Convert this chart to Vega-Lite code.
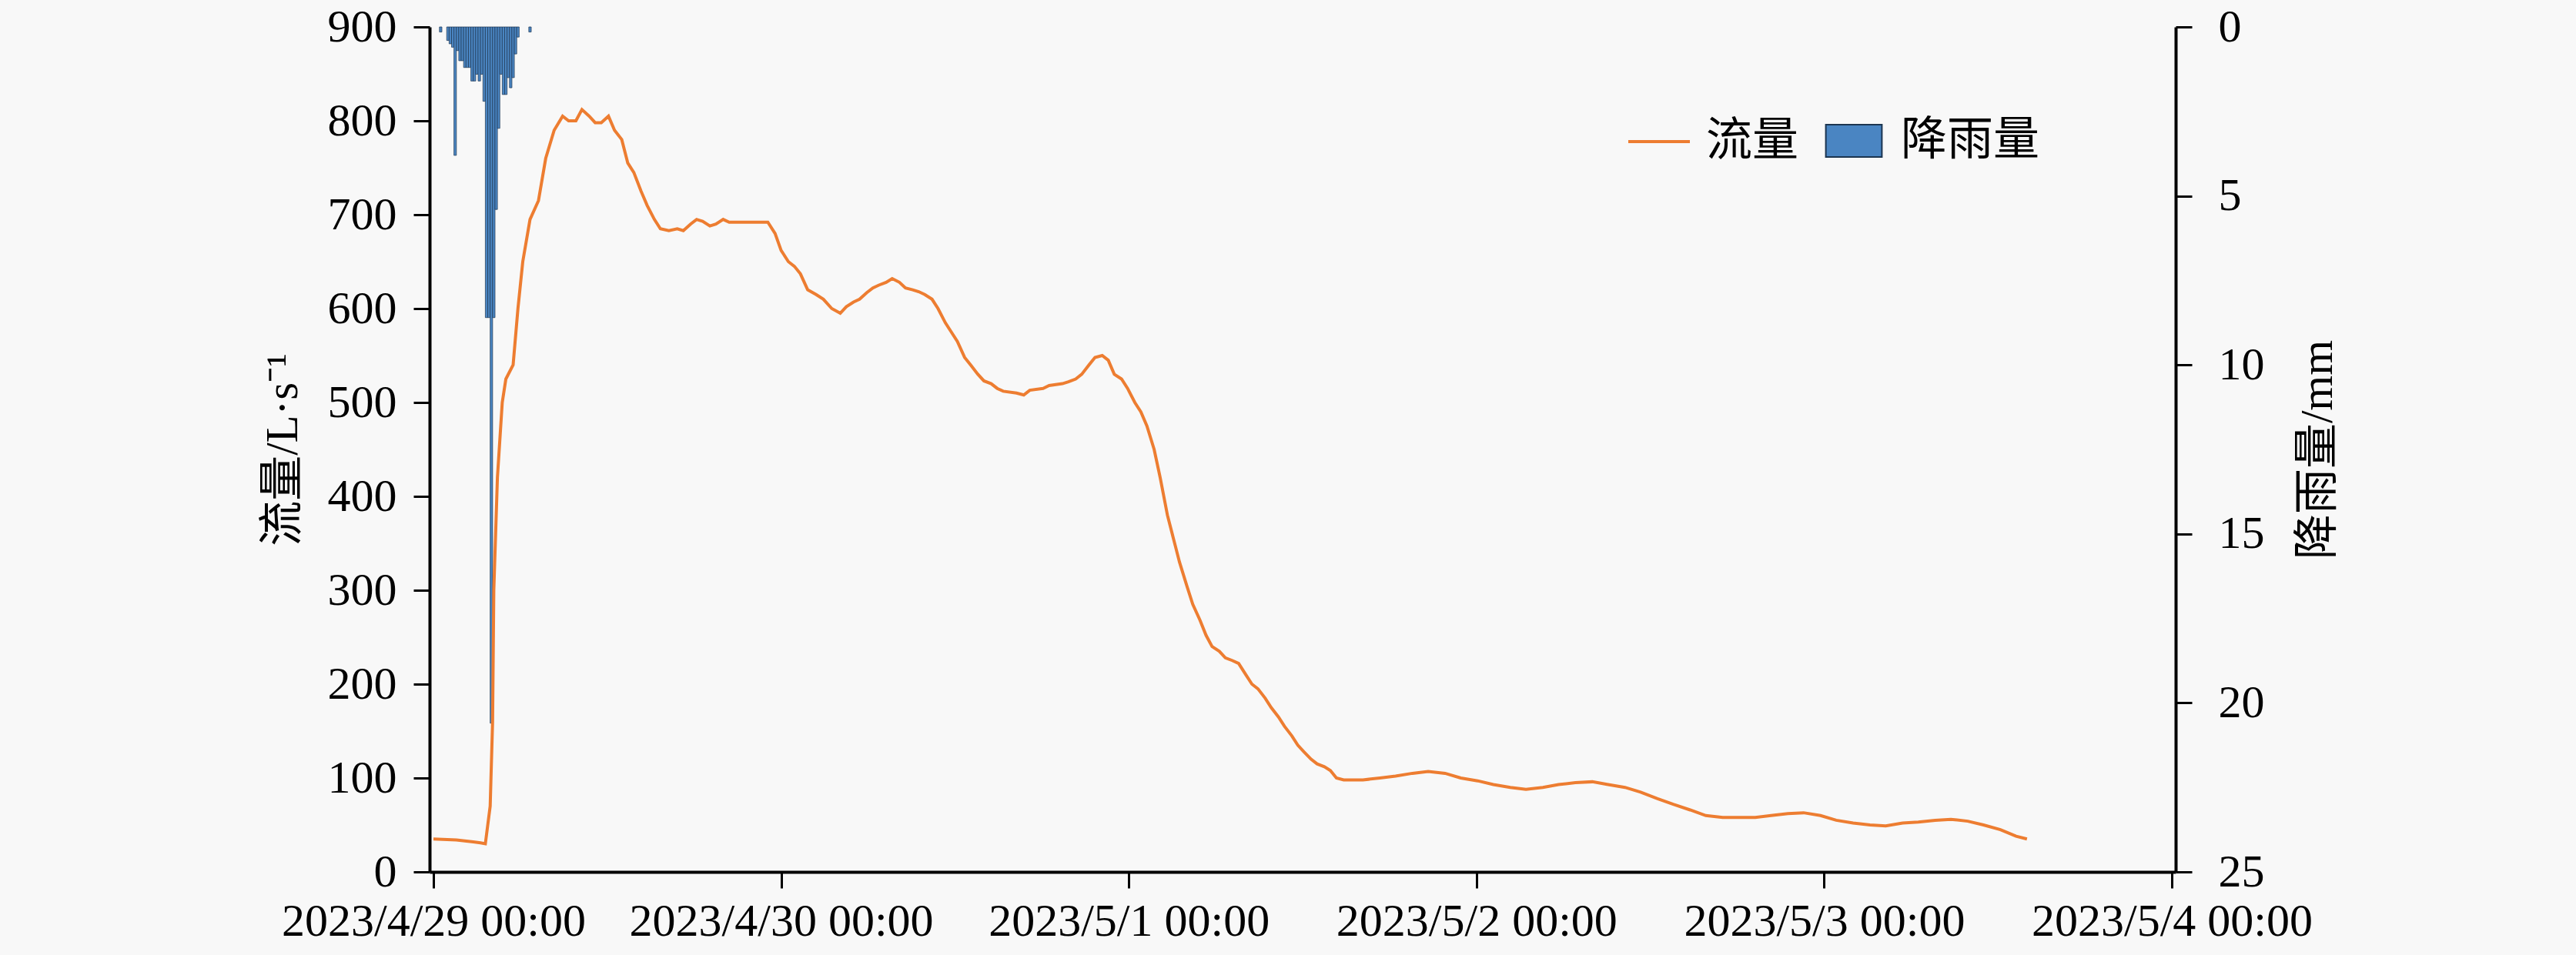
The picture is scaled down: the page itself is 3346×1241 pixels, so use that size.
{
  "$schema": "https://vega.github.io/schema/vega-lite/v6.json",
  "width": 2268,
  "height": 1098,
  "autosize": {"type": "none"},
  "padding": {"left": 558, "top": 35, "right": 520, "bottom": 108},
  "background": "#f8f8f8",
  "config": {
    "view": {"stroke": null},
    "font": "Liberation Serif",
    "axis": {
      "domainColor": "#000000", "domainWidth": 4, "tickColor": "#000000", "tickWidth": 3, "tickSize": 21,
      "labelFont": "Liberation Serif, Noto Sans CJK SC", "labelFontSize": 60, "labelColor": "#000000", "labelLimit": 2000,
      "titleFont": "Liberation Serif, Noto Sans CJK SC", "titleFontSize": 59, "titleFontWeight": "normal", "titleColor": "#000000", "titleLimit": 2000,
      "grid": false
    },
    "legend": {"labelFont": "Liberation Serif, Noto Sans CJK SC", "labelFontSize": 60, "labelColor": "#000000", "labelLimit": 2000}
  },
  "datasets": {
    "flow": [
      {"t": "2023-04-29T00:00", "v": 35, "s": "流量"},
      {"t": "2023-04-29T01:35", "v": 34, "s": "流量"},
      {"t": "2023-04-29T02:45", "v": 32, "s": "流量"},
      {"t": "2023-04-29T03:15", "v": 31, "s": "流量"},
      {"t": "2023-04-29T03:35", "v": 30, "s": "流量"},
      {"t": "2023-04-29T03:55", "v": 70, "s": "流量"},
      {"t": "2023-04-29T04:05", "v": 160, "s": "流量"},
      {"t": "2023-04-29T04:10", "v": 300, "s": "流量"},
      {"t": "2023-04-29T04:25", "v": 420, "s": "流量"},
      {"t": "2023-04-29T04:45", "v": 500, "s": "流量"},
      {"t": "2023-04-29T05:00", "v": 525, "s": "流量"},
      {"t": "2023-04-29T05:30", "v": 540, "s": "流量"},
      {"t": "2023-04-29T05:50", "v": 600, "s": "流量"},
      {"t": "2023-04-29T06:10", "v": 650, "s": "流量"},
      {"t": "2023-04-29T06:40", "v": 695, "s": "流量"},
      {"t": "2023-04-29T07:15", "v": 715, "s": "流量"},
      {"t": "2023-04-29T07:45", "v": 760, "s": "流量"},
      {"t": "2023-04-29T08:20", "v": 790, "s": "流量"},
      {"t": "2023-04-29T08:55", "v": 805, "s": "流量"},
      {"t": "2023-04-29T09:20", "v": 800, "s": "流量"},
      {"t": "2023-04-29T09:50", "v": 800, "s": "流量"},
      {"t": "2023-04-29T10:15", "v": 812, "s": "流量"},
      {"t": "2023-04-29T10:45", "v": 805, "s": "流量"},
      {"t": "2023-04-29T11:10", "v": 798, "s": "流量"},
      {"t": "2023-04-29T11:35", "v": 798, "s": "流量"},
      {"t": "2023-04-29T12:05", "v": 805, "s": "流量"},
      {"t": "2023-04-29T12:30", "v": 790, "s": "流量"},
      {"t": "2023-04-29T13:00", "v": 780, "s": "流量"},
      {"t": "2023-04-29T13:25", "v": 755, "s": "流量"},
      {"t": "2023-04-29T13:50", "v": 745, "s": "流量"},
      {"t": "2023-04-29T14:20", "v": 725, "s": "流量"},
      {"t": "2023-04-29T14:45", "v": 710, "s": "流量"},
      {"t": "2023-04-29T15:15", "v": 695, "s": "流量"},
      {"t": "2023-04-29T15:40", "v": 685, "s": "流量"},
      {"t": "2023-04-29T16:15", "v": 683, "s": "流量"},
      {"t": "2023-04-29T16:50", "v": 685, "s": "流量"},
      {"t": "2023-04-29T17:15", "v": 683, "s": "流量"},
      {"t": "2023-04-29T17:45", "v": 690, "s": "流量"},
      {"t": "2023-04-29T18:10", "v": 695, "s": "流量"},
      {"t": "2023-04-29T18:35", "v": 693, "s": "流量"},
      {"t": "2023-04-29T19:05", "v": 688, "s": "流量"},
      {"t": "2023-04-29T19:30", "v": 690, "s": "流量"},
      {"t": "2023-04-29T20:00", "v": 695, "s": "流量"},
      {"t": "2023-04-29T20:25", "v": 692, "s": "流量"},
      {"t": "2023-04-29T23:05", "v": 692, "s": "流量"},
      {"t": "2023-04-29T23:35", "v": 680, "s": "流量"},
      {"t": "2023-04-30T00:00", "v": 662, "s": "流量"},
      {"t": "2023-04-30T00:30", "v": 650, "s": "流量"},
      {"t": "2023-04-30T00:55", "v": 645, "s": "流量"},
      {"t": "2023-04-30T01:20", "v": 637, "s": "流量"},
      {"t": "2023-04-30T01:50", "v": 620, "s": "流量"},
      {"t": "2023-04-30T02:25", "v": 615, "s": "流量"},
      {"t": "2023-04-30T02:55", "v": 610, "s": "流量"},
      {"t": "2023-04-30T03:30", "v": 600, "s": "流量"},
      {"t": "2023-04-30T04:05", "v": 595, "s": "流量"},
      {"t": "2023-04-30T04:30", "v": 602, "s": "流量"},
      {"t": "2023-04-30T05:00", "v": 607, "s": "流量"},
      {"t": "2023-04-30T05:25", "v": 610, "s": "流量"},
      {"t": "2023-04-30T05:55", "v": 617, "s": "流量"},
      {"t": "2023-04-30T06:20", "v": 622, "s": "流量"},
      {"t": "2023-04-30T06:45", "v": 625, "s": "流量"},
      {"t": "2023-04-30T07:15", "v": 628, "s": "流量"},
      {"t": "2023-04-30T07:40", "v": 632, "s": "流量"},
      {"t": "2023-04-30T08:10", "v": 628, "s": "流量"},
      {"t": "2023-04-30T08:35", "v": 622, "s": "流量"},
      {"t": "2023-04-30T09:05", "v": 620, "s": "流量"},
      {"t": "2023-04-30T09:30", "v": 618, "s": "流量"},
      {"t": "2023-04-30T09:55", "v": 615, "s": "流量"},
      {"t": "2023-04-30T10:25", "v": 610, "s": "流量"},
      {"t": "2023-04-30T10:50", "v": 600, "s": "流量"},
      {"t": "2023-04-30T11:20", "v": 585, "s": "流量"},
      {"t": "2023-04-30T11:45", "v": 575, "s": "流量"},
      {"t": "2023-04-30T12:10", "v": 565, "s": "流量"},
      {"t": "2023-04-30T12:40", "v": 548, "s": "流量"},
      {"t": "2023-04-30T13:05", "v": 540, "s": "流量"},
      {"t": "2023-04-30T13:35", "v": 530, "s": "流量"},
      {"t": "2023-04-30T14:00", "v": 523, "s": "流量"},
      {"t": "2023-04-30T14:30", "v": 520, "s": "流量"},
      {"t": "2023-04-30T14:55", "v": 515, "s": "流量"},
      {"t": "2023-04-30T15:20", "v": 512, "s": "流量"},
      {"t": "2023-04-30T16:15", "v": 510, "s": "流量"},
      {"t": "2023-04-30T16:45", "v": 508, "s": "流量"},
      {"t": "2023-04-30T17:10", "v": 513, "s": "流量"},
      {"t": "2023-04-30T18:05", "v": 515, "s": "流量"},
      {"t": "2023-04-30T18:30", "v": 518, "s": "流量"},
      {"t": "2023-04-30T19:25", "v": 520, "s": "流量"},
      {"t": "2023-04-30T19:50", "v": 522, "s": "流量"},
      {"t": "2023-04-30T20:20", "v": 525, "s": "流量"},
      {"t": "2023-04-30T20:45", "v": 530, "s": "流量"},
      {"t": "2023-04-30T21:15", "v": 540, "s": "流量"},
      {"t": "2023-04-30T21:40", "v": 548, "s": "流量"},
      {"t": "2023-04-30T22:10", "v": 550, "s": "流量"},
      {"t": "2023-04-30T22:35", "v": 545, "s": "流量"},
      {"t": "2023-04-30T23:00", "v": 530, "s": "流量"},
      {"t": "2023-04-30T23:30", "v": 525, "s": "流量"},
      {"t": "2023-04-30T23:55", "v": 515, "s": "流量"},
      {"t": "2023-05-01T00:25", "v": 500, "s": "流量"},
      {"t": "2023-05-01T00:50", "v": 490, "s": "流量"},
      {"t": "2023-05-01T01:15", "v": 475, "s": "流量"},
      {"t": "2023-05-01T01:45", "v": 450, "s": "流量"},
      {"t": "2023-05-01T02:10", "v": 420, "s": "流量"},
      {"t": "2023-05-01T02:40", "v": 380, "s": "流量"},
      {"t": "2023-05-01T03:05", "v": 355, "s": "流量"},
      {"t": "2023-05-01T03:30", "v": 330, "s": "流量"},
      {"t": "2023-05-01T04:00", "v": 305, "s": "流量"},
      {"t": "2023-05-01T04:25", "v": 285, "s": "流量"},
      {"t": "2023-05-01T04:55", "v": 268, "s": "流量"},
      {"t": "2023-05-01T05:20", "v": 252, "s": "流量"},
      {"t": "2023-05-01T05:45", "v": 240, "s": "流量"},
      {"t": "2023-05-01T06:15", "v": 235, "s": "流量"},
      {"t": "2023-05-01T06:40", "v": 228, "s": "流量"},
      {"t": "2023-05-01T07:10", "v": 225, "s": "流量"},
      {"t": "2023-05-01T07:35", "v": 222, "s": "流量"},
      {"t": "2023-05-01T08:05", "v": 210, "s": "流量"},
      {"t": "2023-05-01T08:30", "v": 200, "s": "流量"},
      {"t": "2023-05-01T08:55", "v": 195, "s": "流量"},
      {"t": "2023-05-01T09:25", "v": 185, "s": "流量"},
      {"t": "2023-05-01T09:50", "v": 175, "s": "流量"},
      {"t": "2023-05-01T10:20", "v": 165, "s": "流量"},
      {"t": "2023-05-01T10:45", "v": 155, "s": "流量"},
      {"t": "2023-05-01T11:15", "v": 145, "s": "流量"},
      {"t": "2023-05-01T11:40", "v": 135, "s": "流量"},
      {"t": "2023-05-01T12:05", "v": 128, "s": "流量"},
      {"t": "2023-05-01T12:35", "v": 120, "s": "流量"},
      {"t": "2023-05-01T13:00", "v": 115, "s": "流量"},
      {"t": "2023-05-01T13:30", "v": 112, "s": "流量"},
      {"t": "2023-05-01T13:55", "v": 108, "s": "流量"},
      {"t": "2023-05-01T14:20", "v": 100, "s": "流量"},
      {"t": "2023-05-01T14:50", "v": 98, "s": "流量"},
      {"t": "2023-05-01T16:10", "v": 98, "s": "流量"},
      {"t": "2023-05-01T17:20", "v": 100, "s": "流量"},
      {"t": "2023-05-01T18:25", "v": 102, "s": "流量"},
      {"t": "2023-05-01T19:35", "v": 105, "s": "流量"},
      {"t": "2023-05-01T20:40", "v": 107, "s": "流量"},
      {"t": "2023-05-01T21:50", "v": 105, "s": "流量"},
      {"t": "2023-05-01T22:55", "v": 100, "s": "流量"},
      {"t": "2023-05-02T00:05", "v": 97, "s": "流量"},
      {"t": "2023-05-02T01:10", "v": 93, "s": "流量"},
      {"t": "2023-05-02T02:20", "v": 90, "s": "流量"},
      {"t": "2023-05-02T03:25", "v": 88, "s": "流量"},
      {"t": "2023-05-02T04:35", "v": 90, "s": "流量"},
      {"t": "2023-05-02T05:40", "v": 93, "s": "流量"},
      {"t": "2023-05-02T06:50", "v": 95, "s": "流量"},
      {"t": "2023-05-02T08:00", "v": 96, "s": "流量"},
      {"t": "2023-05-02T09:05", "v": 93, "s": "流量"},
      {"t": "2023-05-02T10:15", "v": 90, "s": "流量"},
      {"t": "2023-05-02T11:20", "v": 85, "s": "流量"},
      {"t": "2023-05-02T12:30", "v": 78, "s": "流量"},
      {"t": "2023-05-02T13:35", "v": 72, "s": "流量"},
      {"t": "2023-05-02T14:45", "v": 66, "s": "流量"},
      {"t": "2023-05-02T15:50", "v": 60, "s": "流量"},
      {"t": "2023-05-02T17:00", "v": 58, "s": "流量"},
      {"t": "2023-05-02T19:15", "v": 58, "s": "流量"},
      {"t": "2023-05-02T20:20", "v": 60, "s": "流量"},
      {"t": "2023-05-02T21:30", "v": 62, "s": "流量"},
      {"t": "2023-05-02T22:35", "v": 63, "s": "流量"},
      {"t": "2023-05-02T23:45", "v": 60, "s": "流量"},
      {"t": "2023-05-03T00:50", "v": 55, "s": "流量"},
      {"t": "2023-05-03T02:00", "v": 52, "s": "流量"},
      {"t": "2023-05-03T03:10", "v": 50, "s": "流量"},
      {"t": "2023-05-03T04:15", "v": 49, "s": "流量"},
      {"t": "2023-05-03T05:25", "v": 52, "s": "流量"},
      {"t": "2023-05-03T06:30", "v": 53, "s": "流量"},
      {"t": "2023-05-03T07:40", "v": 55, "s": "流量"},
      {"t": "2023-05-03T08:45", "v": 56, "s": "流量"},
      {"t": "2023-05-03T09:55", "v": 54, "s": "流量"},
      {"t": "2023-05-03T11:00", "v": 50, "s": "流量"},
      {"t": "2023-05-03T12:10", "v": 45, "s": "流量"},
      {"t": "2023-05-03T13:15", "v": 38, "s": "流量"},
      {"t": "2023-05-03T14:00", "v": 35, "s": "流量"}
    ],
    "rain": [
      {"t": "2023-04-29T00:30", "r": 0.15, "s": "降雨量"},
      {"t": "2023-04-29T01:00", "r": 0.4, "s": "降雨量"},
      {"t": "2023-04-29T01:10", "r": 0.5, "s": "降雨量"},
      {"t": "2023-04-29T01:20", "r": 0.6, "s": "降雨量"},
      {"t": "2023-04-29T01:30", "r": 3.8, "s": "降雨量"},
      {"t": "2023-04-29T01:40", "r": 0.7, "s": "降雨量"},
      {"t": "2023-04-29T01:50", "r": 1.0, "s": "降雨量"},
      {"t": "2023-04-29T02:00", "r": 1.0, "s": "降雨量"},
      {"t": "2023-04-29T02:10", "r": 1.2, "s": "降雨量"},
      {"t": "2023-04-29T02:20", "r": 1.2, "s": "降雨量"},
      {"t": "2023-04-29T02:30", "r": 1.2, "s": "降雨量"},
      {"t": "2023-04-29T02:40", "r": 1.6, "s": "降雨量"},
      {"t": "2023-04-29T02:50", "r": 1.6, "s": "降雨量"},
      {"t": "2023-04-29T03:00", "r": 1.4, "s": "降雨量"},
      {"t": "2023-04-29T03:10", "r": 1.6, "s": "降雨量"},
      {"t": "2023-04-29T03:20", "r": 1.4, "s": "降雨量"},
      {"t": "2023-04-29T03:30", "r": 2.2, "s": "降雨量"},
      {"t": "2023-04-29T03:40", "r": 8.6, "s": "降雨量"},
      {"t": "2023-04-29T03:50", "r": 8.6, "s": "降雨量"},
      {"t": "2023-04-29T04:00", "r": 20.6, "s": "降雨量"},
      {"t": "2023-04-29T04:10", "r": 8.6, "s": "降雨量"},
      {"t": "2023-04-29T04:20", "r": 5.4, "s": "降雨量"},
      {"t": "2023-04-29T04:30", "r": 3.0, "s": "降雨量"},
      {"t": "2023-04-29T04:40", "r": 1.4, "s": "降雨量"},
      {"t": "2023-04-29T04:50", "r": 2.0, "s": "降雨量"},
      {"t": "2023-04-29T05:00", "r": 2.0, "s": "降雨量"},
      {"t": "2023-04-29T05:10", "r": 1.5, "s": "降雨量"},
      {"t": "2023-04-29T05:20", "r": 1.8, "s": "降雨量"},
      {"t": "2023-04-29T05:30", "r": 1.5, "s": "降雨量"},
      {"t": "2023-04-29T05:40", "r": 0.8, "s": "降雨量"},
      {"t": "2023-04-29T05:50", "r": 0.3, "s": "降雨量"},
      {"t": "2023-04-29T06:40", "r": 0.15, "s": "降雨量"}
    ]
  },
  "layer": [
    {
      "data": {"name": "rain"},
      "mark": {"type": "bar", "width": 3.2, "stroke": "#1c3550", "strokeWidth": 0.7, "opacity": 1},
      "encoding": {
        "x": {"field": "t", "type": "temporal",
              "scale": {"domain": [{"year": 2023, "month": 4, "date": 29}, {"year": 2023, "month": 5, "date": 4}]},
              "axis": {"title": null, "format": "%Y/%-m/%-d %H:%M", "tickCount": {"interval": "day", "step": 1}, "labelPadding": 14, "labelFlush": false, "labelOverlap": false}},
        "y": {"field": "r", "type": "quantitative",
              "scale": {"domain": [0, 25], "reverse": true, "nice": false},
              "axis": {"orient": "right", "title": "降雨量/mm", "values": [0, 5, 10, 15, 20, 25], "labelPadding": 34, "titlePadding": 40, "titleAngle": 270, "titleBaseline": "top", "labelFlush": false}},
        "fill": {"field": "s", "type": "nominal",
                 "scale": {"domain": ["降雨量"], "range": ["#4a85c2"]},
                 "legend": {"orient": "none", "legendX": 1809, "legendY": 107, "direction": "horizontal", "title": null,
                            "symbolType": "M-0.91,-0.525H0.91V0.525H-0.91Z", "symbolSize": 6400, "symbolStrokeColor": "#1c3550", "symbolStrokeWidth": 2, "symbolOpacity": 1,
                            "labelOffset": 20}}
      }
    },
    {
      "data": {"name": "flow"},
      "mark": {"type": "line", "strokeWidth": 4},
      "encoding": {
        "x": {"field": "t", "type": "temporal"},
        "y": {"field": "v", "type": "quantitative",
              "scale": {"domain": [0, 900], "nice": false},
              "axis": {"orient": "left", "title": "流量/L·s⁻¹", "values": [0, 100, 200, 300, 400, 500, 600, 700, 800, 900], "labelPadding": 22, "titlePadding": 28, "labelFlush": false}},
        "stroke": {"field": "s", "type": "nominal",
                   "scale": {"domain": ["流量"], "range": ["#ed7d31"]},
                   "legend": {"orient": "none", "legendX": 1555, "legendY": 107, "direction": "horizontal", "title": null,
                              "symbolType": "stroke", "symbolSize": 6400, "symbolStrokeWidth": 4,
                              "labelOffset": 19}}
      }
    }
  ],
  "resolve": {"scale": {"y": "independent"}}
}
